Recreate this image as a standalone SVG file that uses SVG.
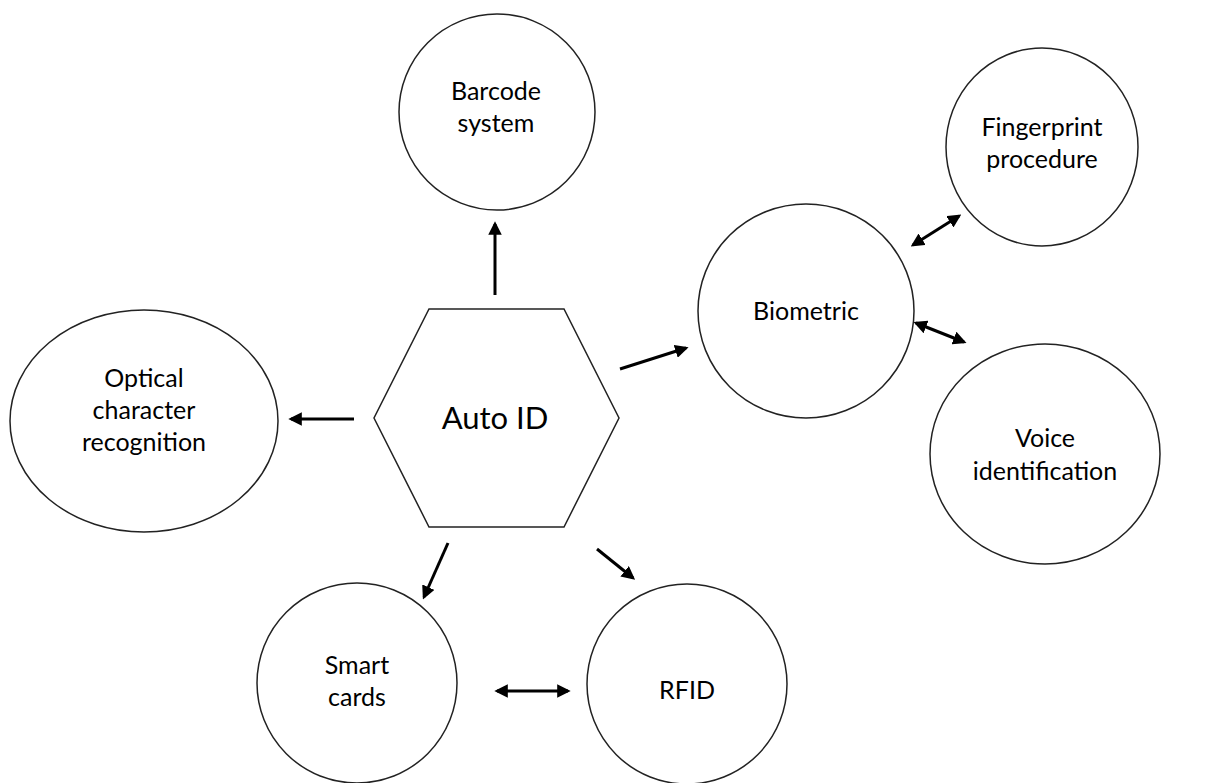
<svg xmlns="http://www.w3.org/2000/svg" width="1216" height="783" viewBox="0 0 1216 783">
  <style>
    .node { fill: #ffffff; stroke: #222; stroke-width: 1.5; }
    .lbl { font-family: "Lato", "Liberation Sans", sans-serif; font-size: 25px; fill: #000; text-anchor: middle; }
    .big { font-size: 31px; }
    .arr { stroke: #000; stroke-width: 3; fill: none; }
  </style>
  <defs>
    <marker id="head" viewBox="0 0 10 10" refX="8" refY="5" markerWidth="4.5" markerHeight="4.5" orient="auto-start-reverse" markerUnits="strokeWidth">
      <path d="M0,0 L10,5 L0,10 Z" fill="#000"/>
    </marker>
  </defs>
  <rect width="1216" height="783" fill="#fff"/>

  <g id="auto-id">
    <polygon class="node" points="429,309 564,309 619,418 564,527 429,527 374,418"/>
    <text class="lbl big" x="495" y="429">Auto ID</text>
  </g>
  <g id="barcode">
    <circle class="node" cx="497" cy="112" r="98"/>
    <text class="lbl" x="496" y="100">Barcode</text>
    <text class="lbl" x="496" y="132">system</text>
  </g>
  <g id="fingerprint">
    <ellipse class="node" cx="1042" cy="147" rx="96" ry="99"/>
    <text class="lbl" x="1042" y="136">Fingerprint</text>
    <text class="lbl" x="1042" y="168">procedure</text>
  </g>
  <g id="biometric">
    <ellipse class="node" cx="806" cy="311" rx="108" ry="107"/>
    <text class="lbl" x="806" y="320">Biometric</text>
  </g>
  <g id="ocr">
    <ellipse class="node" cx="144" cy="421" rx="134" ry="111"/>
    <text class="lbl" x="144" y="387">Optical</text>
    <text class="lbl" x="144" y="419">character</text>
    <text class="lbl" x="144" y="451">recognition</text>
  </g>
  <g id="voice">
    <ellipse class="node" cx="1045" cy="454" rx="115" ry="110"/>
    <text class="lbl" x="1045" y="447">Voice</text>
    <text class="lbl" x="1045" y="480">identification</text>
  </g>
  <g id="smart-cards">
    <circle class="node" cx="357" cy="683" r="100"/>
    <text class="lbl" x="357" y="674">Smart</text>
    <text class="lbl" x="357" y="706">cards</text>
  </g>
  <g id="rfid">
    <circle class="node" cx="687" cy="684" r="100"/>
    <text class="lbl" x="687" y="699">RFID</text>
  </g>

  <g id="connectors">
    <line class="arr" x1="495" y1="295" x2="495" y2="224" marker-end="url(#head)"/>
    <line class="arr" x1="354" y1="419" x2="291" y2="419" marker-end="url(#head)"/>
    <line class="arr" x1="620" y1="369" x2="686" y2="348" marker-end="url(#head)"/>
    <line class="arr" x1="913" y1="245" x2="959" y2="216" marker-start="url(#head)" marker-end="url(#head)"/>
    <line class="arr" x1="916" y1="323" x2="964" y2="342" marker-start="url(#head)" marker-end="url(#head)"/>
    <line class="arr" x1="448" y1="543" x2="424" y2="597" marker-end="url(#head)"/>
    <line class="arr" x1="597" y1="549" x2="633" y2="578" marker-end="url(#head)"/>
    <line class="arr" x1="497" y1="691" x2="568" y2="691" marker-start="url(#head)" marker-end="url(#head)"/>
  </g>
</svg>
